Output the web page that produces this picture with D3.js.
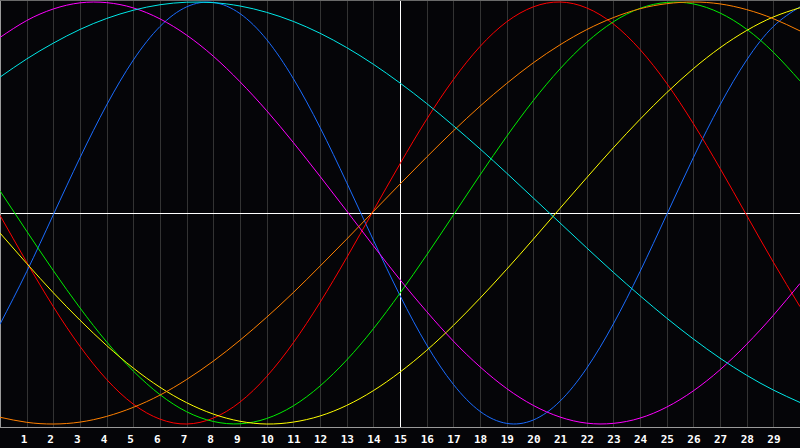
<!DOCTYPE html>
<html><head><meta charset="utf-8">
<script src="https://cdn.jsdelivr.net/npm/d3@7"></script>
<style>
html,body{margin:0;padding:0;background:#050508;}
svg{display:block;}
</style></head><body>
<svg id="chart" width="800" height="448"></svg>
<script>
const days = d3.range(0, 31);
const dayLabels = d3.range(1, 30).map(String);

const physical     = [-0.527,-0.278,-0.008,0.262,0.512,0.725,0.884,0.977,0.998,0.945,0.822,0.637,0.406,0.144,-0.128,-0.391,-0.625,-0.812,-0.940,-0.997,-0.981,-0.892,-0.736,-0.526,-0.278,-0.008,0.262,0.512,0.725,0.884,0.977];
const emotional    = [-0.011,-0.233,-0.444,-0.632,-0.789,-0.906,-0.977,-1.000,-0.972,-0.896,-0.775,-0.615,-0.424,-0.212,0.011,0.233,0.444,0.632,0.789,0.906,0.977,1.000,0.972,0.896,0.775,0.615,0.424,0.212,-0.011,-0.233,-0.444];
const intellectual = [0.105,-0.086,-0.273,-0.450,-0.611,-0.749,-0.861,-0.942,-0.988,-0.999,-0.974,-0.914,-0.820,-0.697,-0.549,-0.380,-0.199,-0.010,0.180,0.363,0.533,0.683,0.809,0.906,0.970,0.998,0.991,0.948,0.871,0.762,0.626];
const intuitive    = [0.832,0.912,0.967,0.996,0.997,0.972,0.920,0.843,0.743,0.622,0.485,0.334,0.174,0.010,-0.155,-0.316,-0.467,-0.607,-0.729,-0.832,-0.912,-0.967,-0.996,-0.997,-0.972,-0.920,-0.843,-0.743,-0.622,-0.485,-0.334];
const aesthetic    = [-0.095,-0.239,-0.378,-0.508,-0.628,-0.735,-0.826,-0.899,-0.953,-0.987,-1.000,-0.991,-0.962,-0.912,-0.842,-0.754,-0.651,-0.533,-0.404,-0.267,-0.124,0.022,0.167,0.309,0.444,0.570,0.684,0.783,0.865,0.929,0.973];
const awareness    = [-0.968,-0.992,-1.000,-0.991,-0.964,-0.921,-0.863,-0.789,-0.702,-0.603,-0.494,-0.377,-0.252,-0.124,0.007,0.137,0.265,0.389,0.506,0.614,0.712,0.797,0.869,0.926,0.968,0.992,1.000,0.991,0.964,0.921,0.863];
const spiritual    = [0.644,0.730,0.805,0.870,0.922,0.961,0.987,0.999,0.997,0.981,0.951,0.908,0.852,0.784,0.705,0.616,0.519,0.414,0.304,0.189,0.071,-0.047,-0.165,-0.281,-0.392,-0.498,-0.597,-0.688,-0.769,-0.839,-0.898];

const seriesNames  = ["physical","emotional","intellectual","intuitive","aesthetic","awareness","spiritual"];
const seriesValues = [physical, emotional, intellectual, intuitive, aesthetic, awareness, spiritual];
const seriesColors = ["#1a6cff","#ff0000","#00ee00","#ff00ff","#ffff00","#ff8000","#00e8e8"];

const svg = d3.select("#chart");
const W = 800, H = 448;
svg.append("rect").attr("width", W).attr("height", H).attr("fill", "#050508");

const x = d3.scaleLinear().domain([0, 30]).range([0, 800]);
const y = d3.scaleLinear().domain([-1, 1]).range([424, 2]);

// vertical day grid
svg.append("g").selectAll("line").data(d3.range(1, 30)).join("line")
  .attr("x1", d => Math.round(x(d)) + 0.5).attr("x2", d => Math.round(x(d)) + 0.5)
  .attr("y1", 0).attr("y2", 427)
  .attr("stroke", d => d === 15 ? "#ffffff" : "#333333")
  .attr("stroke-width", 1);

// horizontal zero line
svg.append("line")
  .attr("x1", 0).attr("x2", 800)
  .attr("y1", Math.round(y(0)) + 0.5).attr("y2", Math.round(y(0)) + 0.5)
  .attr("stroke", "#ffffff").attr("stroke-width", 1);

// borders
svg.append("line").attr("x1", 0.5).attr("x2", 0.5).attr("y1", 0).attr("y2", 428)
  .attr("stroke", "#9a9a9a");
svg.append("line").attr("x1", 0).attr("x2", 800).attr("y1", 0.5).attr("y2", 0.5)
  .attr("stroke", "#6a6a6a");
svg.append("line").attr("x1", 0).attr("x2", 800).attr("y1", 427.5).attr("y2", 427.5)
  .attr("stroke", "#9a9a9a");

// curves
const line = d3.line()
  .x((v, i) => x(days[i]))
  .y(v => y(v))
  .curve(d3.curveNatural);

svg.append("g").selectAll("path").data(seriesValues).join("path")
  .attr("d", d => line(d))
  .attr("fill", "none")
  .attr("stroke", (d, i) => seriesColors[i])
  .attr("stroke-width", 1)
  .attr("class", (d, i) => seriesNames[i]);

// day labels
svg.append("g").selectAll("text").data(dayLabels).join("text")
  .attr("x", d => x(+d) - 6)
  .attr("y", 443)
  .attr("fill", "#ffffff")
  .attr("font-family", "DejaVu Sans Mono, monospace")
  .attr("font-weight", "bold")
  .attr("font-size", "11px")
  .text(d => d);
</script>
</body></html>
